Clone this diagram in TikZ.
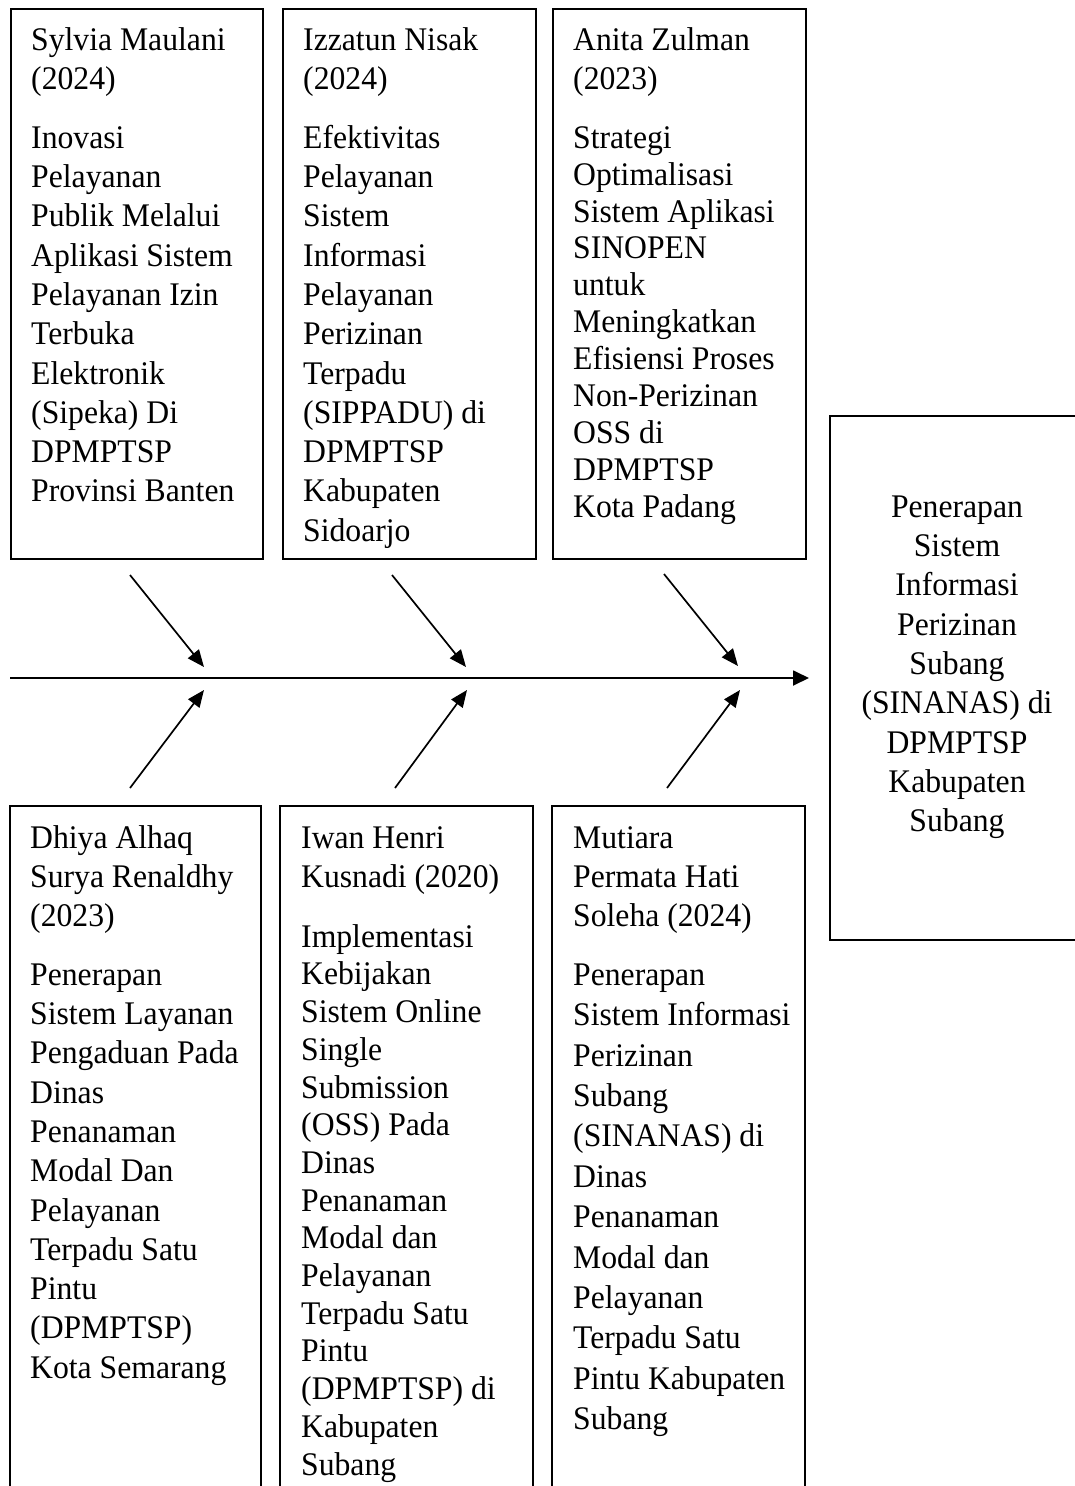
\documentclass[tikz,border=0pt]{standalone}
\usepackage{fontspec}
\setmainfont{Liberation Serif}[FakeStretch=0.96]
\usetikzlibrary{arrows.meta}
\newcommand\fsz[1]{\fontsize{33pt}{#1pt}\selectfont}
\newcommand\fst{\rule{0pt}{28pt}}
\begin{document}
\begin{tikzpicture}[x=1pt,y=-1pt,
  frame/.style={line width=1.8pt},
  boxnode/.style={draw, line width=1.8pt, rectangle, inner sep=0pt, anchor=north west, minimum height=550pt},
  txt/.style={anchor=north west, inner sep=0pt, align=left},
  conn/.style={line width=1.7pt, -{Triangle[length=17pt,width=14pt]}},
]
\useasboundingbox (0,0) rectangle (1075,1486);

% top boxes
\node[boxnode, minimum width=252pt] (b1) at (10,8) {};
\node[boxnode, minimum width=253pt] (b2) at (282,8) {};
\node[boxnode, minimum width=253pt] (b3) at (552,8) {};

% bottom boxes (open at the bottom edge)
\draw[frame] (10,1487) |- (261,806) -- (261,1487);
\draw[frame] (280,1487) |- (533,806) -- (533,1487);
\draw[frame] (552,1487) |- (805,806) -- (805,1487);

% result box (open at the right edge)
\draw[frame] (1076,416) -| (830,940) -- (1076,940);

% texts top
\node[txt, font=\fsz{39}] (h1) at (31,22) {\fst Sylvia Maulani\\(2024)};
\node[txt, font=\fsz{39.3}] (t1) at (31,120) {\fst Inovasi\\Pelayanan\\Publik Melalui\\Aplikasi Sistem\\Pelayanan Izin\\Terbuka\\Elektronik\\(Sipeka) Di\\DPMPTSP\\Provinsi Banten};

\node[txt, font=\fsz{39}] (h2) at (303,22) {\fst Izzatun Nisak\\(2024)};
\node[txt, font=\fsz{39.3}] (t2) at (303,120) {\fst Efektivitas\\Pelayanan\\Sistem\\Informasi\\Pelayanan\\Perizinan\\Terpadu\\(SIPPADU) di\\DPMPTSP\\Kabupaten\\Sidoarjo};

\node[txt, font=\fsz{39}] (h3) at (573,22) {\fst Anita Zulman\\(2023)};
\node[txt, font=\fsz{36.9}] (t3) at (573,120) {\fst Strategi\\Optimalisasi\\Sistem Aplikasi\\SINOPEN\\untuk\\Meningkatkan\\Efisiensi Proses\\Non-Perizinan\\OSS di\\DPMPTSP\\Kota Padang};

% texts bottom
\node[txt, font=\fsz{39.3}] (h4) at (30,820) {\fst Dhiya Alhaq\\Surya Renaldhy\\(2023)};
\node[txt, font=\fsz{39.3}] (t4) at (30,957) {\fst Penerapan\\Sistem Layanan\\Pengaduan Pada\\Dinas\\Penanaman\\Modal Dan\\Pelayanan\\Terpadu Satu\\Pintu\\(DPMPTSP)\\Kota Semarang};

\node[txt, font=\fsz{39.5}] (h5) at (301,820) {\fst Iwan Henri\\Kusnadi (2020)};
\node[txt, font=\fsz{37.7}] (t5) at (301,919) {\fst Implementasi\\Kebijakan\\Sistem Online\\Single\\Submission\\(OSS) Pada\\Dinas\\Penanaman\\Modal dan\\Pelayanan\\Terpadu Satu\\Pintu\\(DPMPTSP) di\\Kabupaten\\Subang};

\node[txt, font=\fsz{39.3}] (h6) at (573,820) {\fst Mutiara\\Permata Hati\\Soleha (2024)};
\node[txt, font=\fsz{40.4}] (t6) at (573,957) {\fst Penerapan\\Sistem Informasi\\Perizinan\\Subang\\(SINANAS) di\\Dinas\\Penanaman\\Modal dan\\Pelayanan\\Terpadu Satu\\Pintu Kabupaten\\Subang};

% result text
\node[anchor=north, inner sep=0pt, align=center, font=\fsz{39.3}] (rt) at (957,489) {\fst Penerapan\\Sistem\\Informasi\\Perizinan\\Subang\\(SINANAS) di\\DPMPTSP\\Kabupaten\\Subang};

% spine
\coordinate (sp0) at (10,678);
\coordinate (sp1) at (809,678);
\draw[line width=1.8pt, -{Triangle[length=16pt,width=15pt]}] (sp0) -- (sp1);

% ribs
\coordinate (a1s) at (130,575); \coordinate (a1e) at (204,667);
\coordinate (a2s) at (392,575); \coordinate (a2e) at (466,667);
\coordinate (a3s) at (664,574); \coordinate (a3e) at (738,666);
\coordinate (c1s) at (130,788); \coordinate (c1e) at (204,690);
\coordinate (c2s) at (395,788); \coordinate (c2e) at (467,690);
\coordinate (c3s) at (667,788); \coordinate (c3e) at (740,690);
\draw[conn] (a1s) -- (a1e);
\draw[conn] (a2s) -- (a2e);
\draw[conn] (a3s) -- (a3e);
\draw[conn] (c1s) -- (c1e);
\draw[conn] (c2s) -- (c2e);
\draw[conn] (c3s) -- (c3e);
\end{tikzpicture}
\end{document}
